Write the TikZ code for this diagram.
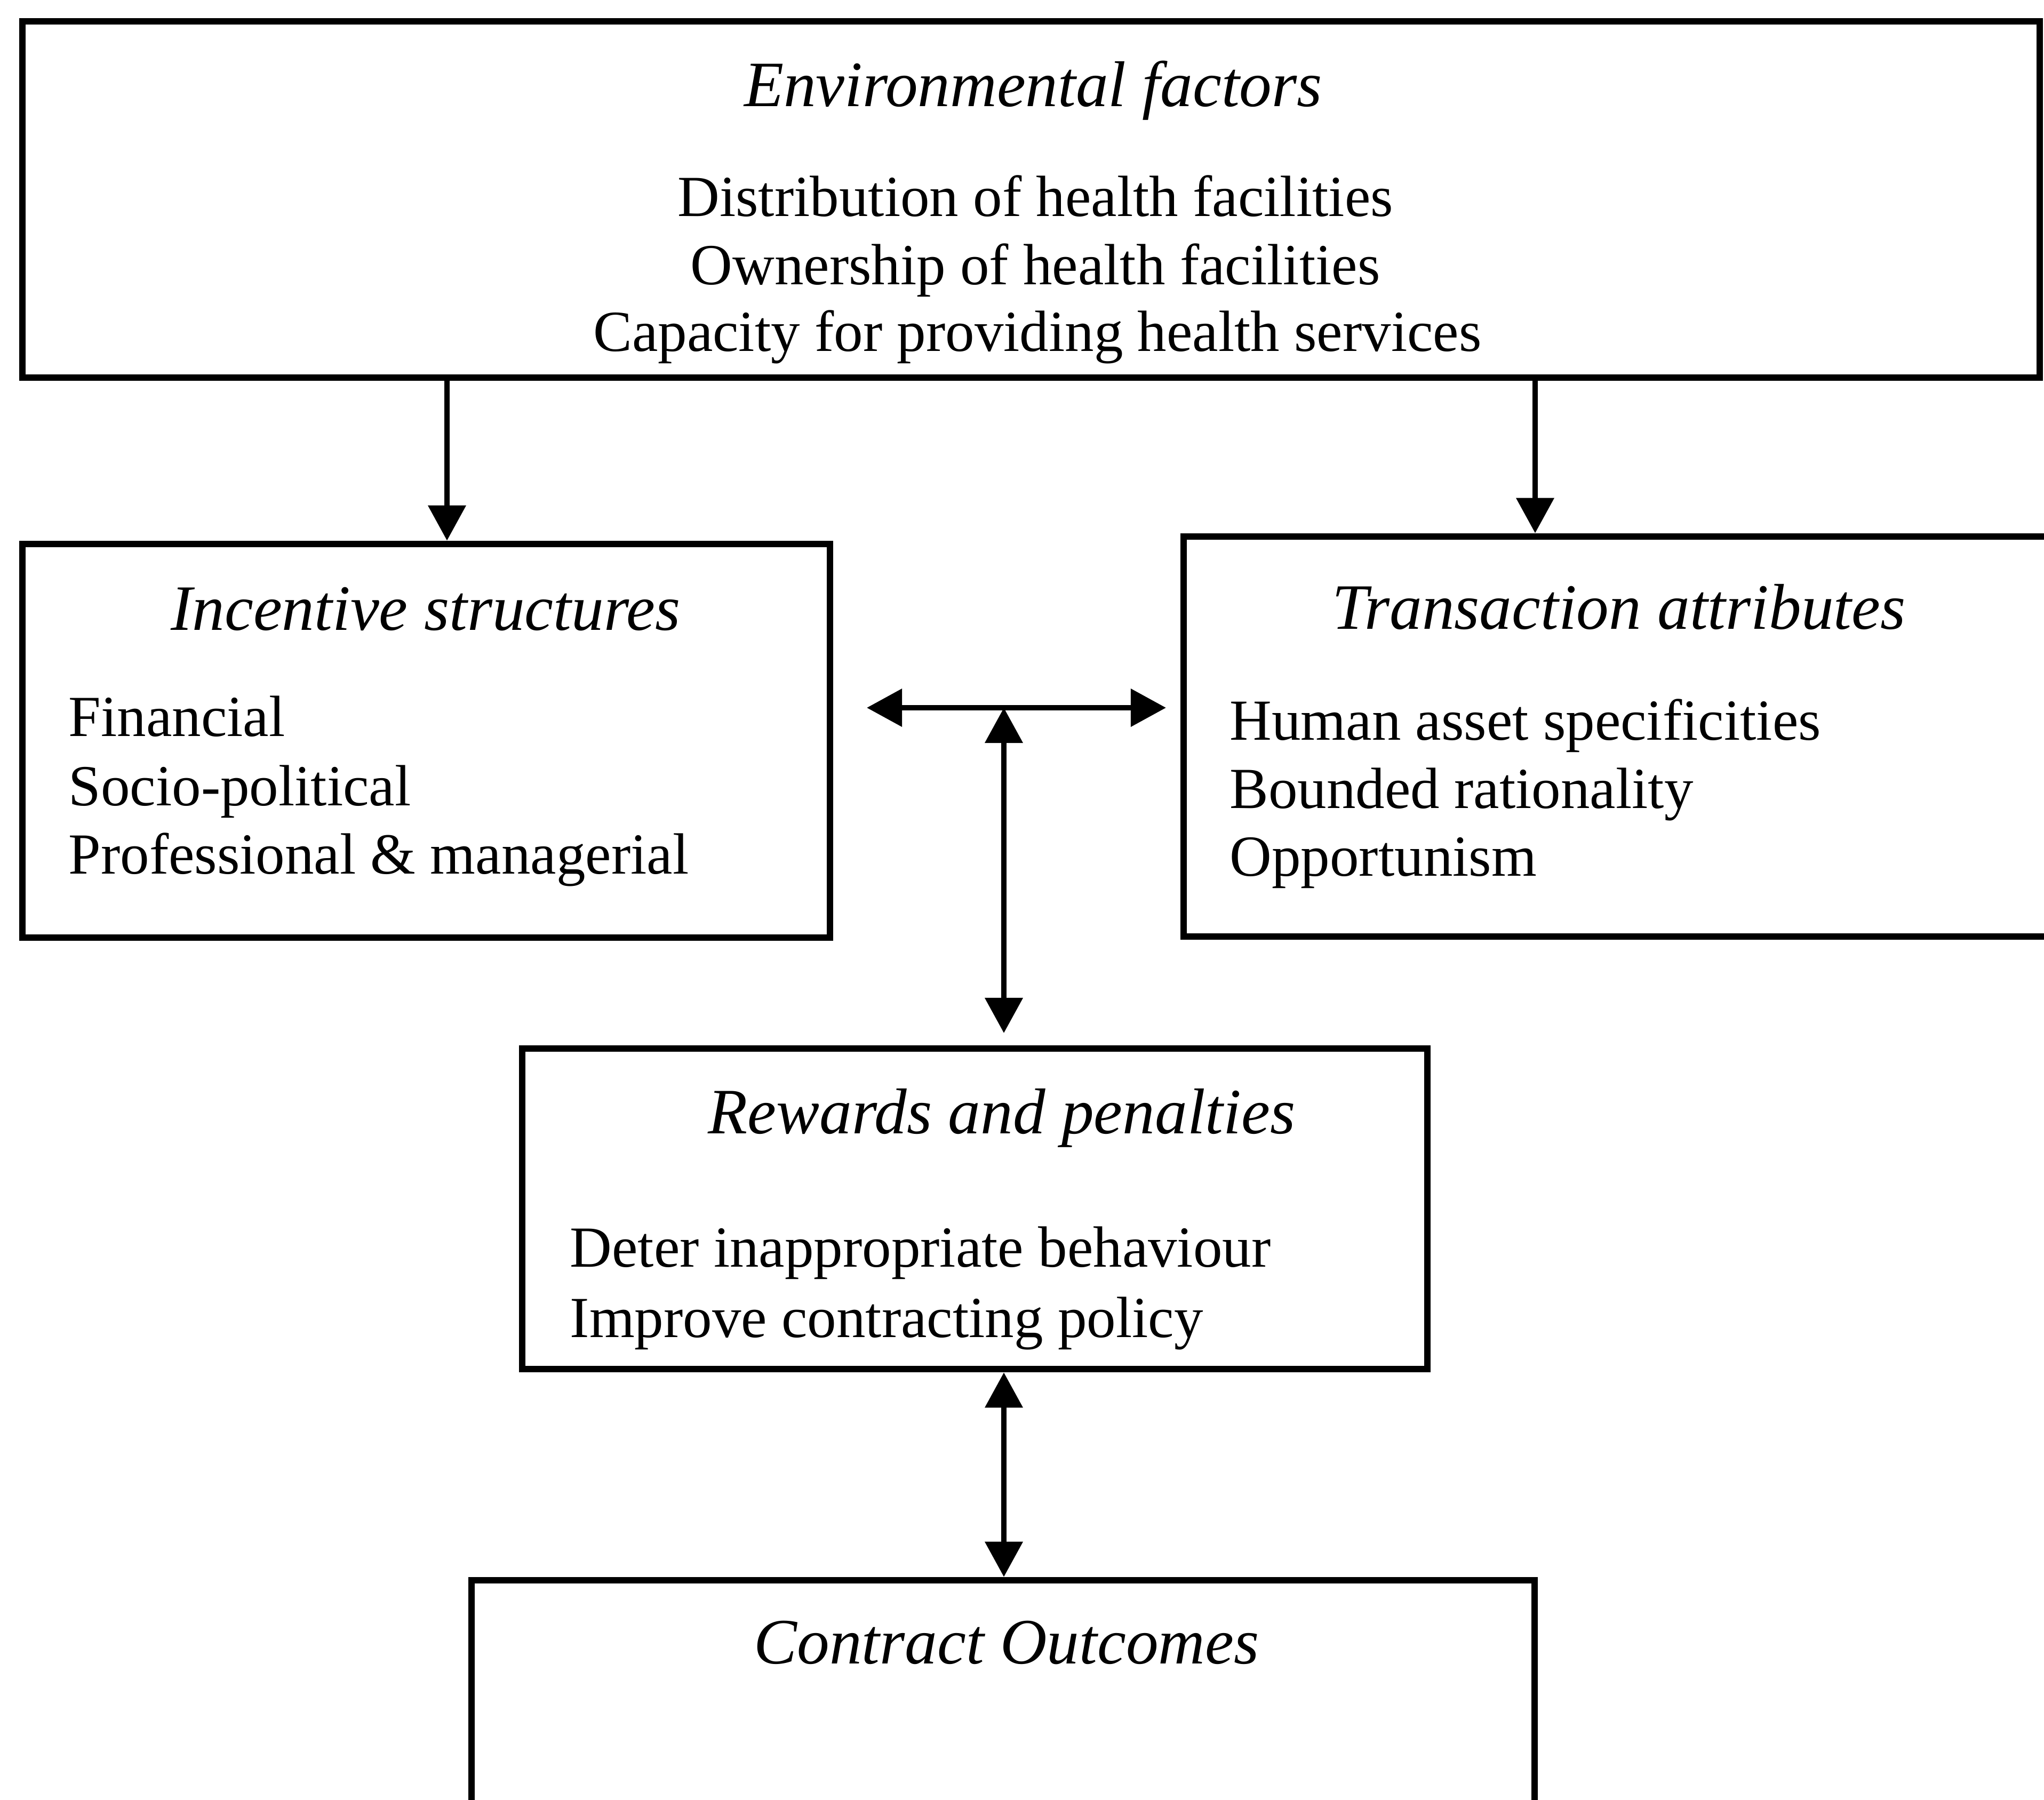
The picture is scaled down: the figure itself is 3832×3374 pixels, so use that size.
\documentclass[tikz,border=0pt]{standalone}
\usepackage{fontspec}
\setmainfont{Liberation Serif}
\usetikzlibrary{arrows.meta}
\begin{document}
\begin{tikzpicture}[x=0.01cm,y=-0.01cm,
  boxsty/.style={draw=black, line width=3.6pt, inner sep=0pt, rectangle},
  ttl/.style={inner sep=0pt, anchor=base, font=\fontsize{34.5}{40}\selectfont\itshape},
  itmc/.style={inner sep=0pt, anchor=base, font=\fontsize{31}{37}\selectfont},
  itml/.style={inner sep=0pt, anchor=base west, font=\fontsize{31}{37}\selectfont},
  arr/.style={line width=3pt, -{Triangle[length=0.66cm,width=0.69cm]}},
  darr/.style={line width=3pt, {Triangle[length=0.66cm,width=0.69cm]}-{Triangle[length=0.66cm,width=0.69cm]}}]
\useasboundingbox (0,0) rectangle (3832,3374);
\clip (0,0) rectangle (3832,3374);
\fill[white] (0,0) rectangle (3832,3374);

% boxes
\node[boxsty, minimum width=3782*0.01cm, minimum height=668*0.01cm] (env) at (1933,374) {};
\node[boxsty, minimum width=1514*0.01cm, minimum height=738*0.01cm] (inc) at (799,1389) {};
\node[boxsty, minimum width=1731*0.01cm, minimum height=750*0.01cm] (tra) at (3084.5,1381) {};
\node[boxsty, minimum width=1697*0.01cm, minimum height=601*0.01cm] (rew) at (1827.5,2266.5) {};
\node[boxsty, minimum width=1993*0.01cm, minimum height=537*0.01cm] (out) at (1880.5,3231.5) {};

% texts
\node[ttl] (envt) at (1937,199) {Environmental factors};
\node[itmc] (env1) at (1941,405) {Distribution of health facilities};
\node[itmc] (env2) at (1941,533) {Ownership of health facilities};
\node[itmc] (env3) at (1945,658) {Capacity for providing health services};

\node[ttl] (inct) at (798,1181) {Incentive structures};
\node[itml] (inc1) at (128,1380) {Financial};
\node[itml] (inc2) at (128,1510) {Socio-political};
\node[itml] (inc3) at (128,1638) {Professional \& managerial};

\node[ttl] (trat) at (3035,1179) {Transaction attributes};
\node[itml] (tra1) at (2305,1387) {Human asset specificities};
\node[itml] (tra2) at (2305,1515) {Bounded rationality};
\node[itml] (tra3) at (2305,1642) {Opportunism};

\node[ttl] (rewt) at (1878,2125) {Rewards and penalties};
\node[itml] (rew1) at (1068,2375) {Deter inappropriate behaviour};
\node[itml] (rew2) at (1068,2507) {Improve contracting policy};

\node[ttl] (outt) at (1887,3119) {Contract Outcomes};

% connector coordinates
\coordinate (cl) at (838,0);
\coordinate (cr) at (2878,0);
\coordinate (hl) at (1625,1327);
\coordinate (hr) at (2186,1327);
\coordinate (vt) at (1882,1327);
\coordinate (vb) at (1882,1937);
\coordinate (vx) at (1882,0);

% connectors
\draw[arr] (cl |- env.south) -- (cl |- inc.north);
\draw[arr] (cr |- env.south) -- (cr |- tra.north);
\draw[darr] (hl) -- (hr);
\draw[darr] (vt) -- (vb);
\draw[darr] (vx |- rew.south) -- (vx |- out.north);
\end{tikzpicture}
\end{document}
